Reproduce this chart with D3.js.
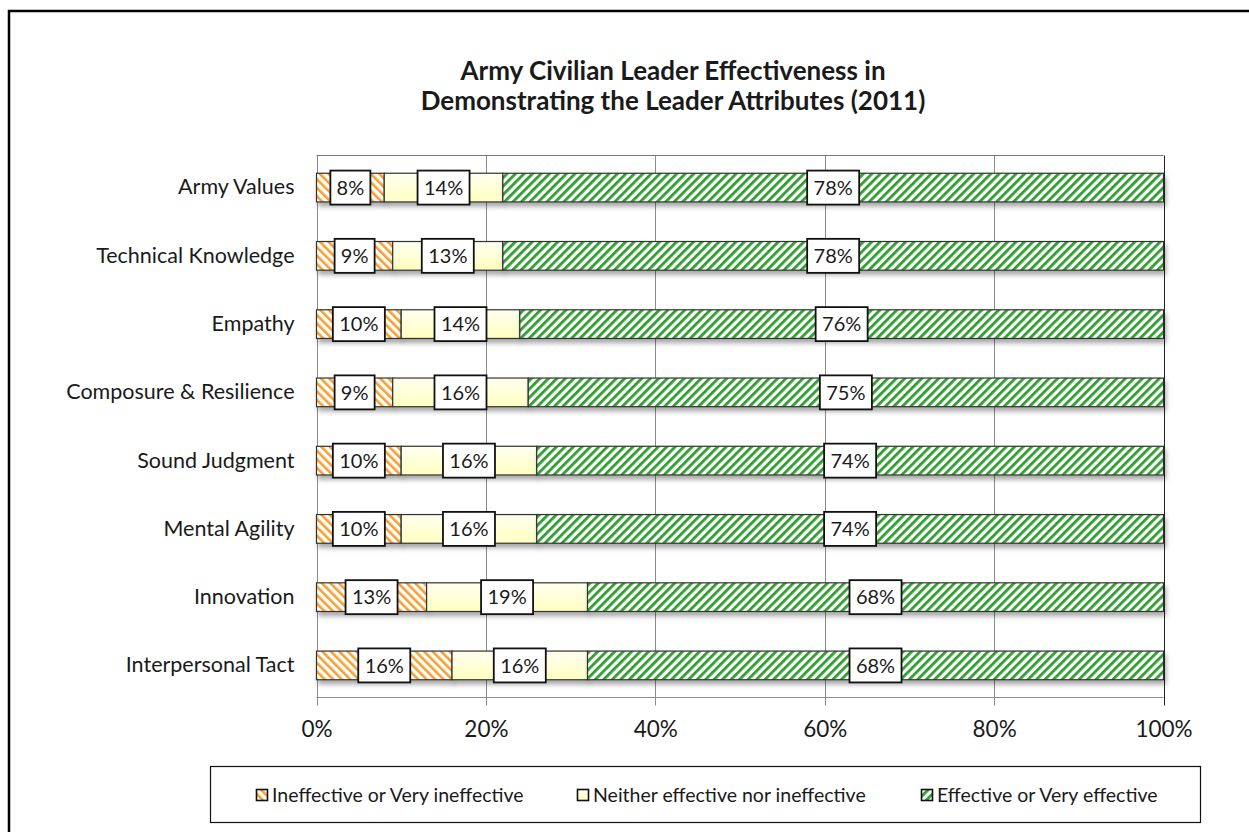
<!DOCTYPE html>
<html>
<head>
<meta charset="utf-8">
<script src="https://cdn.jsdelivr.net/npm/d3@7"></script>
<style>
  body { margin: 0; background: #fff; }
  text { font-family: Lato, "Open Sans", sans-serif; fill: #1a1a1a; }
</style>
</head>
<body>
<div class="vis-area"></div>
<script>
var width = 1249;
var height = 832;

// chart data
var categories = ["Army Values", "Technical Knowledge", "Empathy", "Composure & Resilience",
  "Sound Judgment", "Mental Agility", "Innovation", "Interpersonal Tact"];
var ineffective = [8, 9, 10, 9, 10, 10, 13, 16];
var neither = [14, 13, 14, 16, 16, 16, 19, 16];
var effective = [78, 78, 76, 75, 74, 74, 68, 68];
var seriesNames = ["Ineffective or Very ineffective", "Neither effective nor ineffective", "Effective or Very effective"];
var xTicks = [0, 20, 40, 60, 80, 100];
var titleLines = ["Army Civilian Leader Effectiveness in", "Demonstrating the Leader Attributes (2011)"];

var plot = {left: 316.5, right: 1163.5, top: 155.5, bottom: 697.5};

var svg = d3.select('.vis-area')
  .append('svg')
  .attr('width', width)
  .attr('height', height);

var defs = svg.append('defs');

// stripe patterns
var orangePat = defs.append('pattern')
  .attr('id', 'orange')
  .attr('patternUnits', 'userSpaceOnUse')
  .attr('width', 6).attr('height', 6)
  .attr('patternTransform', 'rotate(-45)');
orangePat.append('rect').attr('width', 6).attr('height', 6).attr('fill', '#fff');
orangePat.append('rect').attr('width', 2.6).attr('height', 6).attr('fill', '#f7a030');

var greenPat = defs.append('pattern')
  .attr('id', 'green')
  .attr('patternUnits', 'userSpaceOnUse')
  .attr('width', 6).attr('height', 6)
  .attr('patternTransform', 'rotate(45)');
greenPat.append('rect').attr('width', 6).attr('height', 6).attr('fill', '#fff');
greenPat.append('rect').attr('width', 2.8).attr('height', 6).attr('fill', '#2f9e2f');

var yellowGrad = defs.append('linearGradient')
  .attr('id', 'yellow')
  .attr('x1', 0).attr('y1', 0).attr('x2', 0).attr('y2', 1);
yellowGrad.append('stop').attr('offset', '0%').attr('stop-color', '#fffff0');
yellowGrad.append('stop').attr('offset', '100%').attr('stop-color', '#ffffc0');

var shadow = defs.append('filter')
  .attr('id', 'shadow')
  .attr('x', '-5%').attr('y', '-30%').attr('width', '110%').attr('height', '180%');
shadow.append('feDropShadow')
  .attr('dx', 2).attr('dy', 4).attr('stdDeviation', 2.5)
  .attr('flood-color', '#000').attr('flood-opacity', 0.35);

var fills = ['url(#orange)', 'url(#yellow)', 'url(#green)'];

// outer border
svg.append('rect')
  .attr('x', 9).attr('y', 11)
  .attr('width', 1300).attr('height', 900)
  .attr('fill', 'none')
  .attr('stroke', '#000')
  .attr('stroke-width', 2.5);

// title
svg.append('g').selectAll('text')
  .data(titleLines)
  .enter()
  .append('text')
  .attr('x', 673)
  .attr('y', (d, i) => 80 + i * 30)
  .attr('text-anchor', 'middle')
  .attr('font-size', 26)
  .attr('font-weight', 'bold')
  .text(d => d);

var x = d3.scaleLinear().domain([0, 100]).range([plot.left, plot.right]);
var y = d3.scaleBand()
  .domain(categories)
  .range([plot.top, plot.bottom])
  .paddingInner(0.58)
  .paddingOuter(0.26);

// gridlines
svg.append('g').selectAll('line')
  .data(xTicks)
  .enter()
  .append('line')
  .attr('x1', d => Math.round(x(d)) + 0.5)
  .attr('x2', d => Math.round(x(d)) + 0.5)
  .attr('y1', plot.top)
  .attr('y2', plot.bottom + 8)
  .attr('stroke', d => d === 100 ? '#222' : '#8c8c8c')
  .attr('stroke-width', 1);

svg.append('line')
  .attr('x1', plot.left).attr('x2', plot.right)
  .attr('y1', plot.top).attr('y2', plot.top)
  .attr('stroke', '#777');
svg.append('line')
  .attr('x1', plot.left).attr('x2', plot.right)
  .attr('y1', plot.bottom).attr('y2', plot.bottom)
  .attr('stroke', '#8c8c8c');

// x axis labels
var xAxis = d3.axisBottom(x)
  .tickValues(xTicks)
  .tickSize(0)
  .tickPadding(24)
  .tickFormat(d => d + '%');
var xg = svg.append('g')
  .attr('transform', `translate(0,${plot.bottom})`)
  .call(xAxis);
xg.select('.domain').remove();
xg.selectAll('text')
  .attr('font-size', 22.5)
  .attr('font-family', 'Lato, sans-serif')
  .attr('fill', '#1a1a1a');

// y axis labels
var yAxis = d3.axisLeft(y).tickSize(0).tickPadding(22);
var yg = svg.append('g')
  .attr('transform', `translate(${plot.left},0)`)
  .call(yAxis);
yg.select('.domain').remove();
yg.selectAll('text')
  .attr('font-size', 21.5)
  .attr('font-family', 'Lato, sans-serif')
  .attr('fill', '#1a1a1a');

// stacked bars
var rows = categories.map((c, i) => ({
  category: c, v0: ineffective[i], v1: neither[i], v2: effective[i]
}));
var stack = d3.stack().keys(['v0', 'v1', 'v2']);
var series = stack(rows);

var barG = svg.append('g');
barG.selectAll('g')
  .data(series)
  .enter()
  .append('g')
  .attr('filter', 'url(#shadow)')
  .attr('fill', (d, i) => fills[i])
  .selectAll('rect')
  .data(d => d)
  .enter()
  .append('rect')
  .attr('x', d => x(d[0]))
  .attr('y', d => y(d.data.category))
  .attr('width', d => x(d[1]) - x(d[0]))
  .attr('height', y.bandwidth())
  .attr('stroke', '#333')
  .attr('stroke-width', 1.2);

// data labels
var labelG = svg.append('g');
series.forEach(s => {
  s.forEach(d => {
    var val = d[1] - d[0];
    var txt = val + '%';
    var cx = x((d[0] + d[1]) / 2);
    var cy = y(d.data.category) + y.bandwidth() / 2;
    var w = txt.length === 2 ? 40 : 52;
    var g = labelG.append('g').attr('transform', `translate(${cx},${cy})`);
    g.append('rect')
      .attr('x', -w / 2).attr('y', -17)
      .attr('width', w).attr('height', 34)
      .attr('fill', '#fff')
      .attr('stroke', '#111')
      .attr('stroke-width', 1.8);
    g.append('text')
      .attr('text-anchor', 'middle')
      .attr('dy', '0.36em')
      .attr('font-size', 20)
      .text(txt);
  });
});

// legend
var legend = svg.append('g');
legend.append('rect')
  .attr('x', 210.5).attr('y', 766.5)
  .attr('width', 990).attr('height', 56)
  .attr('fill', '#fff')
  .attr('stroke', '#111')
  .attr('stroke-width', 1.2);

var legendX = [256, 577, 921];
var items = legend.selectAll('g.item')
  .data(seriesNames)
  .enter()
  .append('g')
  .attr('class', 'item')
  .attr('transform', (d, i) => `translate(${legendX[i]},795)`);
items.append('rect')
  .attr('x', 0.5).attr('y', -5.5)
  .attr('width', 11).attr('height', 11)
  .attr('fill', (d, i) => fills[i])
  .attr('stroke', '#111')
  .attr('stroke-width', 1.6);
items.append('text')
  .attr('x', 16)
  .attr('dy', '0.36em')
  .attr('font-size', 19.5)
  .text(d => d);
</script>
</body>
</html>
